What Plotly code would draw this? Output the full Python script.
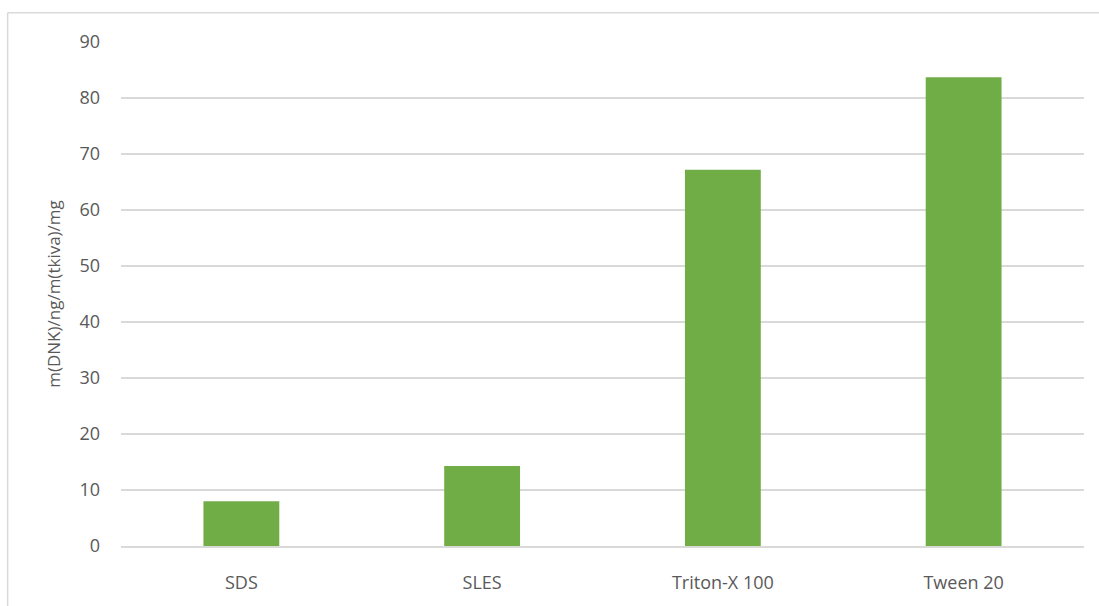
import plotly.graph_objects as go

categories = ["SDS", "SLES", "Triton-X 100", "Tween 20"]
values = [8.0, 14.3, 67.2, 83.7]
y_ticks = [0, 10, 20, 30, 40, 50, 60, 70, 80, 90]
y_title = "m(DNK)/ng/m(tkiva)/mg"

W, H = 1099, 606
L, R, T, B = 120.5, 14.5, 42.3, 56.7
pw = W - L - R
ph = H - T - B

fig = go.Figure()
fig.add_trace(go.Bar(x=categories, y=values, marker=dict(color="#70ad47", line=dict(width=0)),
                     hoverinfo="x+y"))

border_x = (7 - L) / pw
border_y = 1 + (T - 13) / ph

fig.update_layout(
    width=W, height=H,
    margin=dict(l=L, r=R, t=T, b=B, pad=0),
    paper_bgcolor="white", plot_bgcolor="white",
    bargap=0.685,
    showlegend=False,
    font=dict(family="Open Sans, sans-serif", color="#595959", size=18),
    xaxis=dict(showgrid=False, showline=True, linecolor="#d9d9d9", linewidth=1.5,
               ticks="", tickfont=dict(size=18, color="#595959"), ticklabelstandoff=20),
    yaxis=dict(range=[0, 90], tickvals=y_ticks, showgrid=True, gridcolor="#d9d9d9",
               gridwidth=1.5, zeroline=False, showline=False, ticks="",
               tickfont=dict(size=18, color="#595959"), ticklabelstandoff=20,
               title=dict(text=y_title, font=dict(size=17, color="#595959"), standoff=14)),
    shapes=[
        dict(type="line", xref="paper", yref="paper", x0=border_x, x1=(W + 20 - L) / pw,
             y0=border_y, y1=border_y, line=dict(color="#d9d9d9", width=1.5), layer="below"),
        dict(type="line", xref="paper", yref="paper", x0=border_x, x1=border_x,
             y0=border_y, y1=-(B + 20) / ph, line=dict(color="#d9d9d9", width=1.5), layer="below"),
    ],
)

fig.write_html("out.html", config={"displayModeBar": False},
               post_script="document.body.style.margin='0';document.body.style.overflow='hidden';")
